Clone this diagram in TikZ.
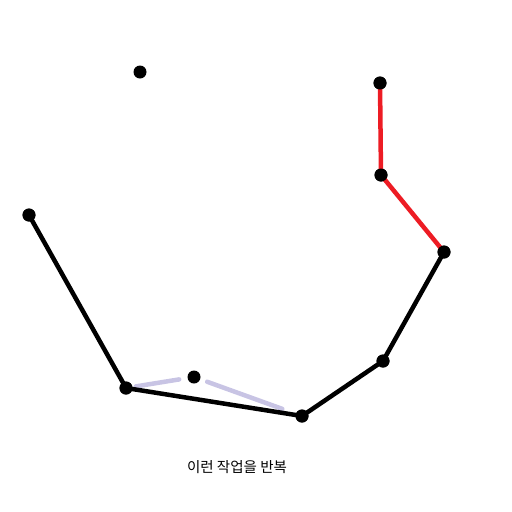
\documentclass[tikz,border=0pt]{standalone}
\usepackage{fontspec}
\newfontfamily\krfont{Noto Sans CJK KR}
\usepackage{tikz}
\usetikzlibrary{calc}
\usepackage{xcolor}
\definecolor{pathred}{RGB}{237,28,36}
\definecolor{paleviolet}{RGB}{200,196,228}
\tikzset{
  dotnode/.style={circle, fill=black, inner sep=0pt, minimum size=13pt},
  blackline/.style={line width=4.5pt, color=black},
  redline/.style={line width=4.5pt, color=pathred},
  ghostline/.style={line width=4.5pt, color=paleviolet, line cap=round},
  caption/.style={font=\krfont\fontsize{14.5}{17}\selectfont, inner sep=0pt}
}

\begin{document}
\begin{tikzpicture}[x=1pt, y=-1pt]
  \useasboundingbox (0,0) rectangle (512,512);

  \node[dotnode] (lone) at (140,72)  {};
  \node[dotnode] (p1)   at (29,215)  {};
  \node[dotnode] (p2)   at (126,388) {};
  \node[dotnode] (mid)  at (194,377) {};
  \node[dotnode] (p3)   at (302,416) {};
  \node[dotnode] (p4)   at (383,361) {};
  \node[dotnode] (p5)   at (444,252) {};
  \node[dotnode] (p6)   at (381,175) {};
  \node[dotnode] (p7)   at (380,83)  {};

  % candidate edges through the middle point
  \draw[ghostline, shorten <=10pt, shorten >=15pt] (p2.center) -- (mid.center);
  \draw[ghostline, shorten <=14pt, shorten >=21pt] (mid.center) -- (p3.center);

  % hull so far
  \draw[blackline] (p1.center) -- (p2.center) -- (p3.center) -- (p4.center) -- (p5.center);
  \draw[redline] (p5.center) -- (p6.center) -- (p7.center);

  % redraw dots on top
  \foreach \n in {p1,p2,p3,p4,p5,p6,p7}
    \fill (\n) circle (6.5pt);

  \node[caption] (note) at (237,467) {이런 작업을 반복};
\end{tikzpicture}
\end{document}
